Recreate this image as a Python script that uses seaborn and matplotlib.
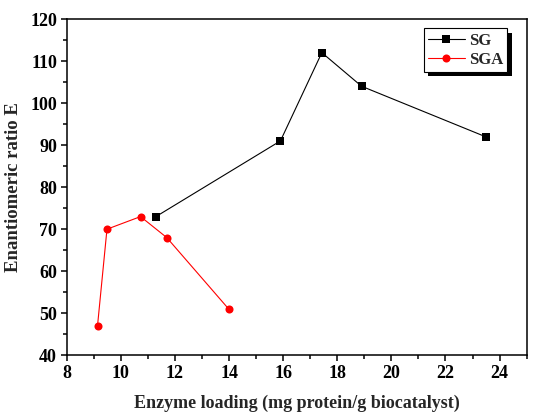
import pandas as pd
import numpy as np
import matplotlib.pyplot as plt
import matplotlib.patheffects as pe
from matplotlib.ticker import MultipleLocator
import seaborn as sns

# values
sg_x = [11.3, 15.9, 17.43, 18.9, 23.48]
sg_y = [73, 91, 112, 104, 92]
sga_x = [9.14, 9.49, 10.73, 11.7, 13.99]
sga_y = [47, 70, 73, 68, 51]
series_names = ['SG', 'SGA']

df = pd.concat([
    pd.DataFrame({'x': sg_x, 'y': sg_y, 'series': series_names[0]}),
    pd.DataFrame({'x': sga_x, 'y': sga_y, 'series': series_names[1]}),
], ignore_index=True)

sns.set_style('ticks')
plt.rcParams['font.family'] = ['Liberation Serif', 'DejaVu Serif']
plt.rcParams['font.weight'] = 'bold'

fig = plt.figure(figsize=(5.5, 4.16), dpi=100)
ax = fig.add_axes([0.1212, 0.1459, 0.8364, 0.8084])

sns.lineplot(data=df, x='x', y='y', hue='series', style='series',
             markers={'SG': 's', 'SGA': 'o'}, dashes=False,
             palette={'SG': 'black', 'SGA': '#ff0000'},
             markersize=5.8, markeredgewidth=0, linewidth=0.8,
             sort=False, ax=ax)

ax.set_xlim(8, 25)
ax.set_ylim(40, 120)
ax.xaxis.set_major_locator(MultipleLocator(2))
ax.xaxis.set_minor_locator(MultipleLocator(1))
ax.yaxis.set_major_locator(MultipleLocator(10))
ax.yaxis.set_minor_locator(MultipleLocator(5))
ax.tick_params(which='both', direction='out', top=False, right=False,
               labelsize=13, width=1.1, colors='black')
ax.tick_params(which='major', length=4.5, pad=2.5)
ax.tick_params(which='minor', length=3)
for s in ax.spines.values():
    s.set_linewidth(1.1)
    s.set_color('black')

ax.set_xlabel('Enzyme loading (mg protein/g biocatalyst)', fontsize=13,
              fontweight='bold', labelpad=9)
ax.set_ylabel('Enantiomeric ratio E', fontsize=13.5, fontweight='bold',
              labelpad=6)

# legend box with a solid black drop shadow
leg = ax.legend(loc='upper right', bbox_to_anchor=(0.958, 0.972),
                borderaxespad=0, fancybox=False, edgecolor='black',
                framealpha=1, prop={'size': 12, 'weight': 'bold'},
                handlelength=2.2, handletextpad=0.25, borderpad=0.25,
                labelspacing=0.2)
leg.get_frame().set_linewidth(0.8)
leg.get_frame().set_path_effects([
    pe.SimplePatchShadow(offset=(3, -3), shadow_rgbFace='black', alpha=1),
    pe.Normal()])

fig.canvas.draw()
for lab in ax.get_xticklabels() + ax.get_yticklabels():
    lab.set_fontweight('bold')

fig.savefig('out.png', dpi=100)
